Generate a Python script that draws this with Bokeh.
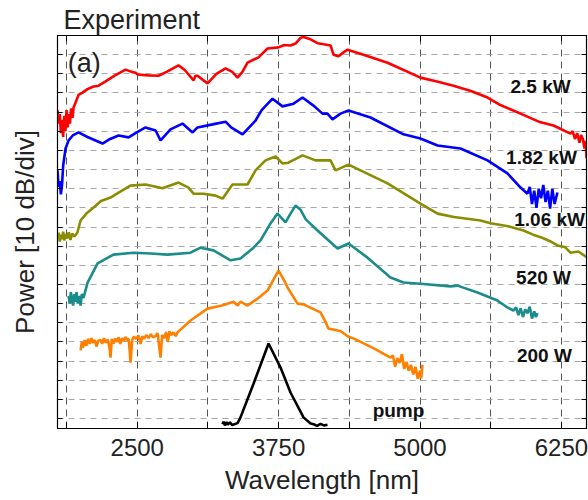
from bokeh.plotting import figure
from bokeh.models import FixedTicker, LinearAxis, Range1d, CustomJSTickFormatter
from bokeh.core.properties import value
from bokeh.embed import file_html
from bokeh.resources import INLINE

# ---------------- data ----------------
x_major_ticks = [2500, 3750, 5000, 6250]
x_minor_ticks = [1875, 3125, 4375, 5625]
y_ticks = list(range(0, 101, 5))

red_wl = [1795, 1805, 1815, 1825, 1835, 1845, 1855, 1865, 1875, 1885, 1895, 1905, 1915, 1928, 1937,
          1955, 1981, 2016, 2060, 2114, 2158, 2220, 2300, 2397, 2450, 2485, 2503, 2600, 2688, 2760,
          2865, 2920, 2998, 3015, 3033, 3121, 3200, 3281, 3340, 3387, 3430, 3475, 3572, 3652, 3749,
          3800, 3855, 3899, 3944, 3970, 4032, 4094, 4150, 4209, 4235, 4280, 4324, 4359, 4500, 4713,
          5004, 5150, 5296, 5450, 5597, 5700, 5889, 6050, 6180, 6330, 6350, 6370, 6390, 6410, 6425,
          6440, 6455, 6465, 6472]
red_db = [80.5, 77.0, 79.5, 74.5, 78.0, 73.5, 79.0, 75.0, 80.5, 76.0, 79.5, 77.0, 81.0, 78.5, 81.2,
          82.5, 84.5, 85.1, 86.0, 86.7, 86.9, 88.0, 89.5, 91.1, 90.5, 90.3, 89.8, 89.6, 89.5, 90.5,
          92.2, 91.0, 88.3, 89.5, 89.5, 87.5, 90.0, 91.4, 90.5, 89.0, 90.5, 92.9, 94.3, 96.6, 96.9,
          97.5, 97.4, 97.9, 99.4, 99.6, 99.0, 98.0, 97.7, 97.4, 95.0, 94.6, 95.6, 96.3, 95.0, 92.9,
          89.0, 88.0, 86.9, 85.5, 83.8, 82.0, 79.6, 77.5, 76.5, 74.4, 75.0, 73.0, 74.5, 72.0, 74.0,
          73.0, 70.5, 72.5, 68.0]

blue_wl = [1795, 1805, 1815, 1825, 1835, 1845, 1866, 1893, 1930, 1981, 2060, 2193, 2260, 2335, 2423,
           2500, 2573, 2662, 2706, 2794, 2900, 2989, 3033, 3166, 3281, 3330, 3431, 3546, 3600, 3696,
           3784, 3882, 3961, 4058, 4138, 4182, 4226, 4297, 4368, 4562, 4854, 5004, 5155, 5358, 5597,
           5773, 5889, 5950, 5970, 5990, 6010, 6030, 6050, 6070, 6090, 6110, 6130, 6150, 6170, 6190,
           6215]
blue_db = [64.8, 60.5, 62.0, 58.5, 61.0, 66.0, 70.5, 72.6, 73.9, 74.7, 73.5, 71.8, 73.0, 73.9, 73.4,
           74.8, 76.0, 75.2, 72.6, 75.5, 77.0, 74.7, 76.0, 76.8, 77.5, 76.0, 74.2, 77.8, 80.5, 83.5,
           81.5, 82.2, 83.8, 81.7, 79.6, 79.6, 78.1, 79.6, 80.4, 78.6, 74.2, 73.1, 71.3, 70.5, 67.4,
           64.0, 60.3, 58.7, 60.5, 56.0, 59.5, 55.0, 60.0, 57.5, 61.0, 56.5, 59.5, 54.8, 60.0, 56.0,
           59.0]

olive_wl = [1795, 1805, 1815, 1825, 1835, 1845, 1855, 1865, 1880, 1895, 1910, 1925, 1945, 1970, 1999,
            2050, 2114, 2180, 2264, 2335, 2440, 2573, 2724, 2865, 2953, 2998, 3086, 3192, 3254, 3342,
            3475, 3546, 3634, 3723, 3784, 3837, 3961, 4076, 4138, 4209, 4253, 4368, 4713, 5004, 5155,
            5300, 5535, 5623, 5780, 5915, 6000, 6080, 6150, 6215, 6280, 6330, 6400, 6481]
olive_db = [47.3, 48.5, 46.2, 48.0, 46.8, 48.8, 46.5, 48.2, 47.0, 48.6, 46.6, 48.3, 47.5, 48.5, 51.7,
            53.5, 55.1, 56.8, 57.7, 59.0, 60.8, 61.1, 60.1, 61.6, 60.3, 58.7, 58.7, 58.2, 57.4, 61.1,
            61.1, 64.8, 67.4, 68.4, 66.6, 66.8, 68.7, 67.4, 67.4, 67.4, 64.8, 66.3, 61.4, 56.1, 53.5,
            52.6, 51.7, 51.0, 50.2, 49.1, 48.0, 47.2, 46.3, 45.2, 44.8, 43.3, 43.6, 42.0]

teal_wl = [1893, 1903, 1913, 1923, 1933, 1943, 1953, 1963, 1975, 1987, 1999, 2010, 2025, 2061, 2149,
           2290, 2467, 2618, 2768, 2971, 3060, 3174, 3325, 3413, 3528, 3590, 3680, 3740, 3811, 3855,
           3899, 3944, 3990, 4094, 4271, 4368, 4536, 4739, 4854, 5004, 5270, 5332, 5508, 5685, 5773,
           5826, 5850, 5870, 5890, 5910, 5930, 5950, 5970, 5990, 6010, 6025, 6039]
teal_db = [32.0, 30.0, 33.0, 31.0, 29.5, 32.5, 30.5, 33.0, 30.0, 32.0, 29.5, 32.5, 31.5, 35.5, 40.5,
           42.8, 43.3, 43.1, 42.8, 43.3, 44.6, 43.9, 41.3, 41.8, 44.6, 46.5, 51.0, 53.5, 51.2, 53.5,
           55.6, 54.5, 52.0, 49.1, 44.4, 45.7, 42.0, 36.8, 35.5, 35.2, 34.5, 34.7, 32.9, 30.8, 29.0,
           28.2, 29.0, 27.0, 28.8, 26.5, 28.5, 27.5, 29.2, 26.1, 28.0, 26.5, 27.5]

orange_wl = [1999, 2010, 2020, 2035, 2050, 2065, 2080, 2095, 2110, 2125, 2140, 2155, 2175, 2190, 2205,
             2220, 2240, 2255, 2264, 2275, 2290, 2305, 2320, 2335, 2350, 2365, 2380, 2395, 2410, 2425,
             2441, 2455, 2470, 2490, 2510, 2530, 2545, 2560, 2580, 2600, 2620, 2640, 2660, 2680, 2706,
             2720, 2740, 2755, 2770, 2785, 2800, 2820, 2840, 2856, 2971, 3121, 3250, 3351, 3387, 3413,
             3475, 3563, 3652, 3700, 3749, 3800, 3829, 3917, 3970, 4120, 4160, 4190, 4300, 4360, 4420,
             4600, 4739, 4760, 4780, 4800, 4820, 4840, 4860, 4880, 4900, 4920, 4940, 4960, 4980, 5000,
             5010, 5022]
orange_db = [17.8, 20.0, 18.5, 20.5, 19.0, 20.8, 19.5, 21.0, 19.8, 20.5, 18.8, 20.3, 20.5, 19.5, 21.0,
             19.8, 20.6, 18.5, 15.9, 20.8, 19.6, 20.9, 20.0, 21.2, 19.5, 21.0, 20.2, 21.3, 20.5, 20.8,
             14.6, 20.4, 21.4, 20.8, 21.7, 19.5, 21.5, 20.8, 21.8, 21.0, 22.0, 21.2, 21.5, 22.3, 15.9,
             21.8, 21.0, 22.6, 20.0, 22.8, 21.8, 22.5, 21.5, 22.5, 25.6, 28.7, 29.5, 30.5, 29.5, 30.5,
             29.5, 31.3, 33.4, 36.0, 38.6, 36.0, 34.2, 30.0, 29.8, 27.7, 25.5, 23.5, 22.8, 21.5, 20.8,
             18.2, 15.9, 16.5, 13.5, 15.8, 14.5, 16.8, 13.0, 14.8, 12.5, 14.0, 11.5, 13.5, 10.4, 12.5,
             10.5, 14.0]

pump_wl = [3254, 3263, 3275, 3290, 3300, 3320, 3340, 3387, 3413, 3528, 3661, 3767, 3855, 3970, 4032,
           4060, 4090, 4120, 4150, 4182]
pump_db = [-1.5, -0.8, -1.8, -0.9, -1.6, -1.0, -1.7, -1.2, 0.3, 9.1, 19.6, 13.3, 6.8, 0.3, -1.3,
           -1.5, -1.9, -1.4, -1.8, -1.6]

label_texts = ["2.5 kW", "1.82 kW", "1.06 kW", "520 W", "200 W", "pump"]
label_wl = [6066, 6074, 6146, 6092, 6100, 4810]
label_db = [86.7, 68.1, 52.0, 36.8, 16.4, 2.1]

# ---------------- figure ----------------
FONT = "Liberation Sans"
BLANK = CustomJSTickFormatter(code="return '';")

p = figure(width=588, height=500, output_backend="svg", toolbar_location=None,
           x_range=Range1d(1795, 6472), y_range=Range1d(-2.6, 100),
           min_border_left=57, min_border_right=2, min_border_top=35, min_border_bottom=72,
           title="Experiment")
p.background_fill_color = "white"
p.border_fill_color = "white"
p.outline_line_color = "black"
p.outline_line_width = 1.2

p.title.text_font = FONT
p.title.text_font_size = "27px"
p.title.text_font_style = "normal"
p.title.align = "left"
p.title.offset = 6
p.title.standoff = 2
p.title.text_color = "#222222"

xticker = FixedTicker(ticks=x_major_ticks, minor_ticks=x_minor_ticks)
yticker = FixedTicker(ticks=y_ticks)

xa = p.xaxis[0]
xa.ticker = xticker
xa.axis_label = "Wavelength [nm]"
xa.axis_label_text_font = FONT
xa.axis_label_text_font_size = "26px"
xa.axis_label_text_font_style = "normal"
xa.axis_label_text_color = "#222222"
xa.axis_label_standoff = 6
xa.major_label_text_font = FONT
xa.major_label_text_font_size = "24px"
xa.major_label_text_color = "#222222"
xa.major_label_standoff = 10
xa.major_tick_in = 6
xa.major_tick_out = 0
xa.minor_tick_in = 6
xa.minor_tick_out = 0
xa.axis_line_color = "black"

ya = p.yaxis[0]
ya.ticker = yticker
ya.formatter = BLANK
ya.axis_label = "Power [10 dB/div]"
ya.axis_label_text_font = FONT
ya.axis_label_text_font_size = "26px"
ya.axis_label_text_font_style = "normal"
ya.axis_label_text_color = "#222222"
ya.axis_label_standoff = 18
ya.major_label_standoff = 0
ya.major_tick_in = 5
ya.major_tick_out = 0
ya.minor_tick_line_color = None
ya.axis_line_color = "black"

top = LinearAxis(ticker=xticker, formatter=BLANK, major_label_standoff=0,
                 major_tick_in=6, major_tick_out=0, minor_tick_in=6, minor_tick_out=0)
p.add_layout(top, "above")
right = LinearAxis(ticker=yticker, formatter=BLANK, major_label_standoff=0,
                   major_tick_in=5, major_tick_out=0, minor_tick_line_color=None)
p.add_layout(right, "right")

p.xgrid.grid_line_color = "#555555"
p.xgrid.grid_line_dash = "7 5"
p.xgrid.grid_line_width = 1
p.xgrid.minor_grid_line_color = "#555555"
p.xgrid.minor_grid_line_dash = "7 5"
p.ygrid.grid_line_color = "#a8a8a8"
p.ygrid.grid_line_dash = "6 5"
p.ygrid.grid_line_width = 1

LW = 2.6
p.line(red_wl, red_db, line_color="#ff0000", line_width=LW)
p.line(blue_wl, blue_db, line_color="#0000ff", line_width=LW)
p.line(olive_wl, olive_db, line_color="#8c8c00", line_width=LW)
p.line(teal_wl, teal_db, line_color="#1a8c8c", line_width=LW)
p.line(orange_wl, orange_db, line_color="#ff8000", line_width=LW)
p.line(pump_wl, pump_db, line_color="black", line_width=LW)

p.text(x=label_wl, y=label_db, text=label_texts, text_font=value(FONT), text_font_size="19px",
       text_font_style="bold", text_color="#111111", text_align="center", text_baseline="middle")

p.text(x=[1885], y=[92.8], text=["(a)"], text_font=value(FONT), text_font_size="27px",
       text_color="#222222", text_align="left", text_baseline="middle")

open("out.html", "w").write(file_html(p, INLINE))
